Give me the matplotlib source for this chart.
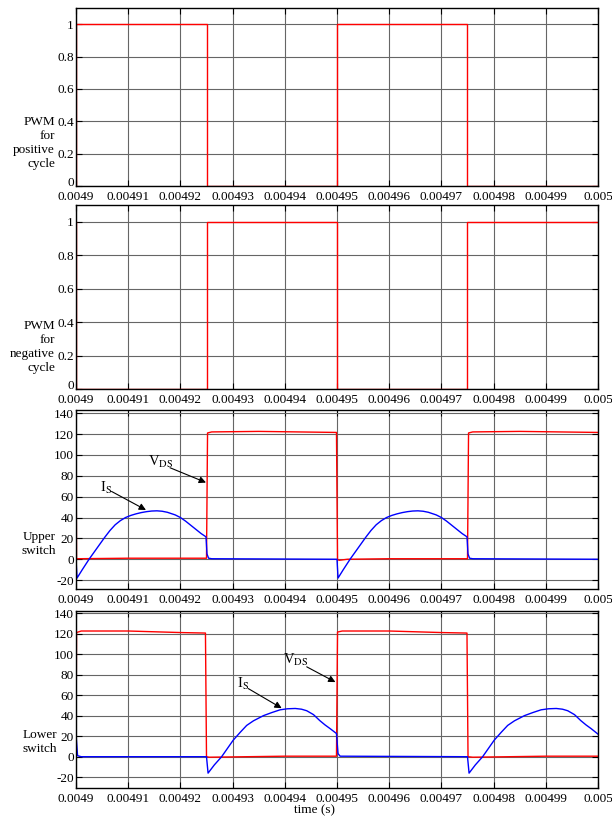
import numpy as np
import matplotlib
matplotlib.use("Agg")
import matplotlib.pyplot as plt
import matplotlib.transforms as mtransforms

plt.rcParams['font.family'] = ['Liberation Serif', 'DejaVu Serif']
plt.rcParams['mathtext.fontset'] = 'stix'
plt.rcParams['font.size'] = 9.5

# time axis in microseconds (converted to seconds when plotted)
x_ticks = [4900, 4910, 4920, 4930, 4940, 4950, 4960, 4970, 4980, 4990, 5000]
x_labels = ['0.0049', '0.00491', '0.00492', '0.00493', '0.00494', '0.00495',
            '0.00496', '0.00497', '0.00498', '0.00499', '0.005']
pwm_ticks = [0, 0.2, 0.4, 0.6, 0.8, 1]
pwm_labels = ['0', '0.2', '0.4', '0.6', '0.8', '1']
sw_ticks = [-20, 0, 20, 40, 60, 80, 100, 120, 140]
sw_labels = ['-20', '0', '20', '40', '60', '80', '100', '120', '140']

# PWM signals
pwm_pos_t = [4900, 4900, 4925, 4925, 4950, 4950, 4975, 4975, 5000]
pwm_pos = [0, 1, 1, 0, 0, 1, 1, 0, 0]
pwm_neg_t = [4900, 4900, 4925, 4925, 4950, 4950, 4975, 4975, 5000]
pwm_neg = [1, 0, 0, 1, 1, 0, 0, 1, 1]

# upper switch
up_vds_t = [4900, 4900.1, 4910, 4925.0, 4925.2, 4926, 4935, 4949.9, 4950.1, 4950.4,
            4952, 4960, 4975.0, 4975.2, 4976, 4985, 5000]
up_vds = [125, 0.5, 1, 1, 121, 122, 122.5, 121.5, 0, -1,
          0, 0.5, 0.5, 121, 122, 122.5, 121.5]
up_is_t = [4900, 4900.2, 4901.2, 4902.5, 4903.5, 4904.5, 4905.5, 4906.5, 4907.5, 4908.5,
           4909.5, 4910.5, 4911.5, 4912.5, 4913.5, 4914.5, 4915.5, 4916.5, 4917.5, 4919,
           4920, 4921, 4922, 4923, 4924, 4924.9, 4925.1, 4925.4, 4926, 4950,
           4950.2, 4951.2, 4952.5, 4953.5, 4954.5, 4955.5, 4956.5, 4957.5, 4958.5,
           4959.5, 4960.5, 4961.5, 4962.5, 4963.5, 4964.5, 4965.5, 4966.5, 4967.5, 4969,
           4970, 4971, 4972, 4973, 4974, 4974.9, 4975.1, 4975.4, 4976, 5000]
up_is = [0, -18, -10, 0, 7, 14, 21, 27.5, 33, 37,
         40, 42, 43.5, 44.7, 45.6, 46.2, 46.4, 46, 45, 42.5,
         40, 36.5, 32.5, 28.5, 24.5, 21.5, 5, 1, 0.5, 0,
         -18, -10, 0, 7, 14, 21, 27.5, 33, 37,
         40, 42, 43.5, 44.7, 45.6, 46.2, 46.4, 46, 45, 42.5,
         40, 36.5, 32.5, 28.5, 24.5, 21.5, 5, 1, 0.5, 0]

# lower switch
lo_vds_t = [4900, 4900.1, 4901, 4910, 4920, 4924.8, 4925.0, 4925.5, 4940, 4949.9,
            4950.1, 4951, 4960, 4970, 4974.9, 4975.1, 4976, 4990, 5000]
lo_vds = [0, 121, 122.5, 122.5, 121, 120.5, 0, -0.5, 0.5, 0.5,
          121.5, 122.5, 122.5, 121, 120.5, 0, -0.5, 0.5, 0.5]
lo_is_t = [4900, 4900.3, 4901, 4925.0, 4925.3, 4926.5, 4927.9, 4929, 4930.1, 4931.5,
           4932.7, 4934, 4935.9, 4937.5, 4939.1, 4940.5, 4942, 4943.2, 4944.2, 4945.5,
           4946.7, 4947.7, 4948.7, 4949.9, 4950.2, 4950.6, 4975.0,
           4975.3, 4976.5, 4977.9, 4979, 4980.1, 4981.5, 4982.7, 4984, 4985.9, 4987.5,
           4989.1, 4990.5, 4992, 4993.2, 4994.2, 4995.5, 4996.7, 4997.7, 4998.7, 5000]
lo_is = [22, 1, 0, 0, -16, -8, 0, 8, 16, 24,
         30.5, 35, 40, 43, 45.7, 46.7, 47, 46.3, 44.8, 41,
         35.2, 31, 27.3, 22.6, 3, 0.5, 0,
         -16, -8, 0, 8, 16, 24, 30.5, 35, 40, 43,
         45.7, 46.7, 47, 46.3, 44.8, 41, 35.2, 31, 27.3, 22]


def s(t):
    return np.array(t) * 1e-6


fig = plt.figure(figsize=(6.12, 8.16), dpi=100)
W, H = 612.0, 816.0
boxes = [(8, 186), (205, 389), (410, 589), (611, 788)]
axes = []
for top, bot in boxes:
    ax = fig.add_axes([76 / W, 1 - bot / H, 522 / W, (bot - top) / H])
    axes.append(ax)

for ax in axes:
    ax.set_xlim(s(4900), s(5000))
    ax.set_xticks(s(x_ticks))
    ax.set_xticklabels(x_labels)
    ax.grid(True, color='0.4', lw=0.8)
    ax.tick_params(direction='in', length=4, top=True, right=True, colors='k')
    ax.tick_params(axis='x', pad=3.5)
    ax.tick_params(axis='y', pad=1.5)
    for sp in ax.spines.values():
        sp.set_linewidth(1.0)

red = '#ff0000'
blue = '#0000ff'

ax1, ax2, ax3, ax4 = axes
ax1.plot(s(pwm_pos_t), pwm_pos, color=red, lw=1.0)
ax2.plot(s(pwm_neg_t), pwm_neg, color=red, lw=1.0)
for ax in (ax1, ax2):
    ax.set_ylim(0, 1.1)
    ax.set_yticks(pwm_ticks)
    ax.set_yticklabels(pwm_labels)
    # lift the "0" label a little so it clears the time labels below
    lab = ax.get_yticklabels()[0]
    lab.set_transform(lab.get_transform() +
                      mtransforms.ScaledTranslation(0, 3 / 72, fig.dpi_scale_trans))

ax3.plot(s(up_vds_t), up_vds, color=red, lw=1.0)
ax3.plot(s(up_is_t), up_is, color=blue, lw=1.0)
ax4.plot(s(lo_vds_t), lo_vds, color=red, lw=1.0)
ax4.plot(s(lo_is_t), lo_is, color=blue, lw=1.0)
ax3.set_ylim(-28.5, 143)
ax4.set_ylim(-30.5, 142)
for ax in (ax3, ax4):
    ax.set_yticks(sw_ticks)
    ax.set_yticklabels(sw_labels)

arrow = dict(arrowstyle='-|>', color='k', lw=0.8, mutation_scale=10, shrinkA=0, shrinkB=0)
# upper switch annotations
ax3.text(s(4913.8), 93, r'V$_{\rm DS}$', ha='left', va='center', fontsize=10.5)
ax3.annotate('', xy=(s(4924.9), 73.5), xytext=(s(4918.0), 87.7), arrowprops=arrow)
ax3.text(s(4904.6), 68, r'I$_{\rm S}$', ha='left', va='center', fontsize=10.5)
ax3.annotate('', xy=(s(4913.4), 47.2), xytext=(s(4906.8), 65), arrowprops=arrow)
# lower switch annotations
ax4.text(s(4939.7), 94, r'V$_{\rm DS}$', ha='left', va='center', fontsize=10.5)
ax4.annotate('', xy=(s(4949.7), 72.7), xytext=(s(4944.2), 87.6), arrowprops=arrow)
ax4.text(s(4930.8), 70.8, r'I$_{\rm S}$', ha='left', va='center', fontsize=10.5)
ax4.annotate('', xy=(s(4939.4), 47.3), xytext=(s(4933.0), 66.4), arrowprops=arrow)

# side labels
fig.text(55 / W, 1 - 143 / H, 'PWM\nfor\npositive\ncycle', ha='right', va='center',
         multialignment='right', linespacing=1.2)
fig.text(55 / W, 1 - 347 / H, 'PWM\nfor\nnegative\ncycle', ha='right', va='center',
         multialignment='right', linespacing=1.2)
fig.text(56 / W, 1 - 544 / H, 'Upper\nswitch', ha='right', va='center',
         multialignment='right', linespacing=1.2)
fig.text(57 / W, 1 - 742 / H, 'Lower\nswitch', ha='right', va='center',
         multialignment='right', linespacing=1.2)
fig.text(314 / W, 1 - 810 / H, 'time (s)', ha='center', va='center')

fig.savefig('out.png', dpi=100)
